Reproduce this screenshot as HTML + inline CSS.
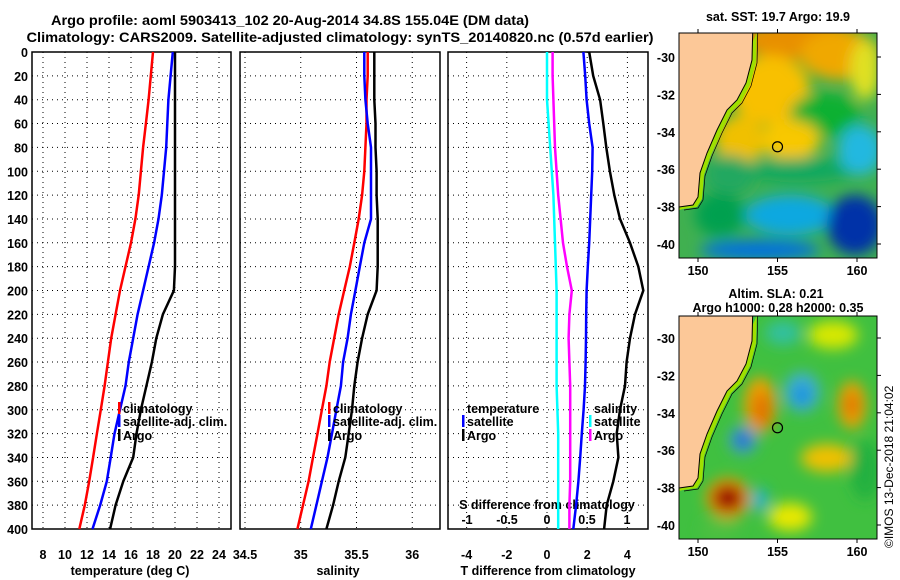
<!DOCTYPE html>
<html><head><meta charset="utf-8"><style>
html,body{margin:0;background:#fff;width:900px;height:580px;overflow:hidden;}
svg{display:block;font-family:"Liberation Sans",sans-serif;font-weight:bold;}
</style></head><body>
<svg id="c" width="900" height="580" viewBox="0 0 900 580">
<defs>
<filter id="bl" x="-50%" y="-50%" width="200%" height="200%"><feGaussianBlur stdDeviation="7"/></filter>
<clipPath id="m1"><rect x="679" y="33" width="198" height="225"/></clipPath>
<clipPath id="m2"><rect x="679" y="316" width="198" height="223"/></clipPath>
</defs>
<text x="290" y="25" text-anchor="middle" font-size="14" textLength="478" lengthAdjust="spacingAndGlyphs">Argo profile: aoml 5903413_102 20-Aug-2014 34.8S 155.04E (DM data)</text>
<text x="340" y="42" text-anchor="middle" font-size="14" textLength="627" lengthAdjust="spacingAndGlyphs">Climatology: CARS2009. Satellite-adjusted climatology: synTS_20140820.nc (0.57d earlier)</text>
<g id="charts"></g>
<g id="maps"></g>
</svg>
<script>
const depths=[0,20,40,60,80,100,120,140,160,180,200,220,240,260,280,300,320,340,360,380,400];
const tClim=[18.0,17.8,17.6,17.35,17.1,16.9,16.7,16.4,16.0,15.5,15.0,14.6,14.2,13.9,13.6,13.25,12.9,12.55,12.2,11.8,11.3];
const tSat=[19.8,19.6,19.4,19.3,19.2,19.0,18.8,18.5,18.1,17.6,17.1,16.6,16.2,15.8,15.5,15.0,14.5,14.15,13.8,13.2,12.5];
const tArgo=[20.0,20.0,20.0,20.0,20.0,20.0,20.0,20.0,20.0,20.0,19.9,18.9,18.3,17.9,17.4,16.9,16.5,16.2,15.3,14.6,14.1];
const sClim=[35.60,35.60,35.59,35.59,35.58,35.57,35.55,35.52,35.48,35.44,35.39,35.34,35.30,35.26,35.23,35.19,35.15,35.11,35.07,35.02,34.97];
const sSat=[35.57,35.57,35.58,35.60,35.63,35.63,35.63,35.63,35.57,35.53,35.49,35.45,35.42,35.38,35.36,35.32,35.28,35.24,35.19,35.14,35.09];
const sArgo=[35.66,35.66,35.66,35.67,35.67,35.68,35.68,35.69,35.69,35.69,35.68,35.60,35.55,35.51,35.48,35.46,35.43,35.40,35.34,35.29,35.23];
const dTSat=[1.81,1.9,1.97,2.1,2.27,2.25,2.2,2.15,2.1,2.03,1.97,1.95,1.94,1.92,1.89,1.82,1.73,1.65,1.56,1.45,1.31];
const dTArgo=[2.1,2.3,2.64,2.8,2.95,3.13,3.35,3.63,4.13,4.54,4.79,4.38,4.13,3.96,3.88,3.63,3.47,3.55,3.30,2.97,2.84];
const dSSat=[0.0,0.0,0.0,0.02,0.04,0.06,0.08,0.09,0.1,0.11,0.12,0.12,0.12,0.12,0.12,0.13,0.14,0.14,0.14,0.14,0.14];
const dSArgo=[0.07,0.07,0.08,0.09,0.1,0.12,0.14,0.17,0.2,0.25,0.31,0.28,0.27,0.28,0.29,0.29,0.29,0.29,0.29,0.28,0.28];
const yTicks=[0,20,40,60,80,100,120,140,160,180,200,220,240,260,280,300,320,340,360,380,400];
const tTicks=[8,10,12,14,16,18,20,22,24];
const sTicks=[34.5,35,35.5,36];
const dTTicks=[-4,-2,0,2,4];
const dSTicks=[-1,-0.5,0,0.5,1];
const dSTickLabels=['-1','-0.5','0','0.5','1'];
const latTicks=[-30,-32,-34,-36,-38,-40];
const lonTicks=[150,155,160];

const NS='http://www.w3.org/2000/svg';
const G=document.getElementById('charts');
function mk(tag,at,par){const e=document.createElementNS(NS,tag);for(const k in at)e.setAttribute(k,at[k]);(par||G).appendChild(e);return e;}
const Y=d=>52+d*(477/400);
const xT=v=>43+(v-8)*11;
const xS=v=>245+(v-34.5)*111.5;
const xDT=v=>547+v*20.1;
const xDS=v=>547+v*80;
function frame(x0,x1,xs,xfn,name){
  const g=mk('g',{});
  
  
  yTicks.forEach(d=>{if(d>0&&d<400)mk('line',{x1:x0,x2:x1,y1:Y(d),y2:Y(d),stroke:'#000','stroke-dasharray':'1 4','stroke-width':1},g);});
  xs.forEach(v=>{const x=xfn(v);if(x>x0+1&&x<x1-1)mk('line',{x1:x,x2:x,y1:Y(0),y2:Y(400),stroke:'#000','stroke-dasharray':'1 4','stroke-width':1},g);});
  const r=mk('rect',{x:x0,y:Y(0),width:x1-x0,height:Y(400)-Y(0),fill:'none',stroke:'#000','stroke-width':1.5});
  
  
}
frame(32,231,tTicks,xT,'temperature-panel');
frame(240,440,sTicks,xS,'salinity-panel');
frame(448,648,dTTicks,xDT,'difference-panel');
yTicks.forEach(d=>{const t=mk('text',{x:28,y:Y(d)+5,'text-anchor':'end','font-size':12.5});t.textContent=d;

});
function xl(vals,fn,labels,y,name){vals.forEach((v,i)=>{const t=mk('text',{x:fn(v),y:y,'text-anchor':'middle','font-size':12.5});t.textContent=labels?labels[i]:v;

});}
xl(tTicks,xT,null,559,'temperature-tick-label');
xl(sTicks,xS,null,559,'salinity-tick-label');
xl(dTTicks,xDT,null,559,'t-diff-tick-label');
xl(dSTicks,xDS,dSTickLabels,524,'s-diff-tick-label');
function title(x,y,s,name){const t=mk('text',{x:x,y:y,'text-anchor':'middle','font-size':12.5});t.textContent=s;

}
title(130,575,'temperature (deg C)','temperature-axis-title');
title(338,575,'salinity','salinity-axis-title');
title(548,575,'T difference from climatology','t-diff-axis-title');
title(547,509,'S difference from climatology','s-diff-axis-title');
function line(vals,fn,col,name){
  let p='';vals.forEach((v,i)=>{p+=(p?'L':'M')+fn(v).toFixed(1)+','+Y(depths[i]).toFixed(1);});
  const e=mk('path',{d:p,fill:'none',stroke:col,'stroke-width':2.5});
  
  
}
line(tClim,xT,'#f00','temp-climatology-line');
line(tSat,xT,'#00f','temp-satellite-line');
line(tArgo,xT,'#000','temp-argo-line');
line(sClim,xS,'#f00','sal-climatology-line');
line(sSat,xS,'#00f','sal-satellite-line');
line(sArgo,xS,'#000','sal-argo-line');
line(dSSat,xDS,'#0ff','s-diff-satellite-line');
line(dSArgo,xDS,'#f0f','s-diff-argo-line');
line(dTSat,xDT,'#00f','t-diff-satellite-line');
line(dTArgo,xDT,'#000','t-diff-argo-line');
function leg(x,y,col,s,name){
  if(col){mk('rect',{x:x,y:y-11,width:2.5,height:12,fill:col});}
  const t=mk('text',{x:x+5,y:y,'font-size':12.5});t.textContent=s;
  
  
}
leg(118,413,'#f00','climatology','legend-climatology');
leg(118,426,'#00f','satellite-adj. clim.','legend-satellite');
leg(118,440,'#000','Argo','legend-argo');
leg(328,413,'#f00','climatology','legend-sal-climatology');
leg(328,426,'#00f','satellite-adj. clim.','legend-sal-satellite');
leg(328,440,'#000','Argo','legend-sal-argo');
leg(462,413,null,'temperature','legend-temperature-header');
leg(462,426,'#00f','satellite','legend-t-satellite');
leg(462,440,'#000','Argo','legend-t-argo');
leg(589,413,null,'salinity','legend-salinity-header');
leg(589,426,'#0ff','satellite','legend-s-satellite');
leg(589,440,'#f0f','Argo','legend-s-argo');

const M=document.getElementById('maps');
const mx=lon=>698+(lon-150)*15.9;
function mapFrame(top,bot,lat30,name,blobs,base,clip,titleLines){
  const my=lat=>lat30+(-30-lat)*18.7;
  const g=mk('g',{'clip-path':'url(#'+clip+')'},M);
  
  
  mk('rect',{x:679,y:top,width:198,height:bot-top,fill:base},g);
  const bg=mk('g',{filter:'url(#bl)'},g);
  blobs.forEach(b=>mk('ellipse',{cx:b[0],cy:b[1],rx:b[2],ry:b[3],fill:b[4]},bg));
  const o=lat30-57;
  const coast=[[753,20],[752,60],[746,83],[737,100],[727,110],[717,130],[707,153],[700,173],[698,197],[693,205],[679,207]];
  let p='M679,'+(top-5);coast.forEach(c=>p+='L'+c[0]+','+(c[1]+o));p+='Z';
  let shelf='M759,'+(top-5);coast.forEach(c=>shelf+='L'+(c[0]+4)+','+(c[1]+o+2));shelf+='L679,'+(210+o)+'L679,'+(205+o);
  let p2='';coast.forEach(c=>p2+=(p2?'L':'M')+c[0]+','+(c[1]+o));
  mk('path',{d:shelf+'Z',fill:'#9ee000'},g);
  mk('path',{d:p,fill:'#fcc898'},g);
  mk('path',{d:p2,fill:'none',stroke:'#000','stroke-width':1},g);
  let p3='';coast.forEach(c=>p3+=(p3?'L':'M')+(c[0]+5)+','+(c[1]+o+3));
  mk('path',{d:p3,fill:'none',stroke:'#000','stroke-width':0.7},g);
  const c=mk('circle',{cx:mx(155),cy:my(-34.8),r:5,fill:'none',stroke:'#000','stroke-width':1.2},M);
  
  
  mk('rect',{x:679,y:top,width:198,height:bot-top,fill:'none',stroke:'#000','stroke-width':1},M);
  latTicks.forEach(l=>{const y=my(l);mk('line',{x1:877,x2:881,y1:y,y2:y,stroke:'#000'},M);
    const t=mk('text',{x:675,y:y+5,'text-anchor':'end','font-size':12.5},M);t.textContent=l;
    
    });
  lonTicks.forEach(l=>{const x=mx(l);mk('line',{x1:x,x2:x,y1:top-4,y2:top,stroke:'#000'},M);mk('line',{x1:x,x2:x,y1:bot,y2:bot+4,stroke:'#000'},M);
    const t=mk('text',{x:x,y:bot+17,'text-anchor':'middle','font-size':12.5},M);t.textContent=l;
    
    });
  titleLines.forEach(tl=>{const t=mk('text',{x:tl[0],y:tl[1],'text-anchor':'middle','font-size':12.5},M);t.textContent=tl[2];
    
    });
}
mapFrame(33,258,57,'sst-map',[
 [800,40,60,20,'#e89000'],[840,55,40,25,'#f0a800'],[865,70,15,30,'#e0e020'],[770,90,40,35,'#f8c000'],
 [825,115,35,22,'#10b030'],[790,140,30,20,'#f8c800'],[740,140,25,25,'#f0c000'],[730,175,25,20,'#20a860'],
 [800,170,55,12,'#10a860'],[860,150,22,25,'#20b8e0'],[720,215,25,22,'#00a050'],[790,215,45,20,'#10a8e0'],
 [855,225,28,30,'#0030a8'],[760,250,60,10,'#0070e0']],
 '#40b050','m1',[[778,21,'sat. SST: 19.7  Argo: 19.9','sst-map-title']]);
mapFrame(316,539,338,'sla-map',[
 [783,333,18,12,'#30c0a0'],[833,335,25,14,'#d8e800'],[760,405,16,28,'#f0a000'],[762,410,9,18,'#e07000'],
 [802,392,18,20,'#40b0d0'],[802,395,9,11,'#1090e0'],[852,405,14,24,'#f0a000'],[852,405,7,12,'#e07000'],
 [743,440,14,14,'#40a0d0'],[743,440,7,7,'#1050d0'],[827,458,26,14,'#f0c000'],
 [728,498,22,20,'#f0a000'],[728,498,16,14,'#c01000'],[728,498,12,10,'#900000'],
 [760,500,8,12,'#20b0d0'],[790,517,22,14,'#e8e800'],[720,530,20,10,'#50c040'],[865,470,15,30,'#20b040']],
 '#40c040','m2',[[776,298,'Altim. SLA: 0.21','sla-map-title'],[778,312,'Argo h1000: 0.28 h2000: 0.35','argo-height-label']]);
const cp=mk('text',{x:0,y:0,'font-size':12,'font-weight':'normal',transform:'translate(893,548) rotate(-90)'},M);
cp.textContent='©IMOS 13-Dec-2018 21:04:02';


</script>
</body></html>
